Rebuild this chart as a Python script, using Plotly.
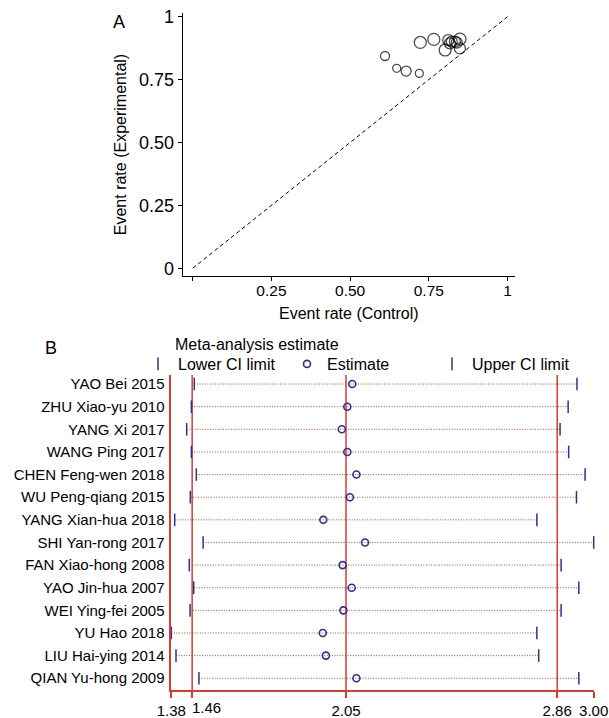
import plotly.graph_objects as go

# ---- Panel A: L'Abbe plot (event rates per study) ----
ctrl_rate = [0.611, 0.648, 0.678, 0.720, 0.723, 0.766, 0.802, 0.849,
             0.849, 0.812, 0.823, 0.833, 0.817, 0.839]
exp_rate = [0.844, 0.795, 0.784, 0.775, 0.898, 0.910, 0.868, 0.874,
            0.911, 0.907, 0.901, 0.901, 0.894, 0.897]
study_weight = [9, 8, 10, 8, 12, 12, 12, 11, 12, 11, 11, 11, 11, 11]

# ---- Panel B: influence analysis (study omitted) ----
studies = ["YAO Bei 2015", "ZHU Xiao-yu 2010", "YANG Xi 2017", "WANG Ping 2017",
           "CHEN Feng-wen 2018", "WU Peng-qiang 2015", "YANG Xian-hua 2018",
           "SHI Yan-rong 2017", "FAN Xiao-hong 2008", "YAO Jin-hua 2007",
           "WEI Ying-fei 2005", "YU Hao 2018", "LIU Hai-ying 2014", "QIAN Yu-hong 2009"]
estimate = [2.074, 2.055, 2.034, 2.055, 2.090, 2.065, 1.963,
            2.123, 2.037, 2.072, 2.040, 1.961, 1.973, 2.090]
lower_ci = [1.468, 1.457, 1.439, 1.457, 1.476, 1.453, 1.393,
            1.502, 1.449, 1.466, 1.452, 1.38, 1.398, 1.486]
upper_ci = [2.936, 2.902, 2.871, 2.904, 2.967, 2.934, 2.782,
            3.00, 2.875, 2.943, 2.875, 2.782, 2.789, 2.943]
pooled = [1.46, 2.05, 2.86]          # pooled lower CI, estimate, upper CI
axis_ticks = [1.38, 1.46, 2.05, 2.86, 3.00]

W, H = 609, 718
FONT = "Liberation Sans, Arial, Helvetica, sans-serif"
NAVY = "#2c3290"
RED = "#dc3a2e"

def px_x(p):
    return p / W

def px_y(p):
    return 1 - p / H

fig = go.Figure()

# Panel A: line of equality
fig.add_trace(go.Scatter(
    x=[0, 1], y=[0, 1], mode="lines",
    line=dict(color="black", width=1, dash="4px,3px"),
    showlegend=False, hoverinfo="skip", xaxis="x", yaxis="y"))

# Panel A: studies as open circles sized by weight
fig.add_trace(go.Scatter(
    x=ctrl_rate, y=exp_rate, mode="markers",
    marker=dict(symbol="circle-open", size=study_weight, color="black",
                line=dict(width=1.3, color="black")),
    showlegend=False, xaxis="x", yaxis="y"))

# Panel B: dotted CI ranges
row_idx = list(range(len(studies)))
ci_x, ci_y = [], []
for i in row_idx:
    ci_x += [lower_ci[i], upper_ci[i], None]
    ci_y += [i, i, None]
fig.add_trace(go.Scatter(
    x=ci_x, y=ci_y, mode="lines",
    line=dict(color=RED, width=1, dash="1px,1.6px"),
    showlegend=False, hoverinfo="skip", xaxis="x2", yaxis="y2", cliponaxis=False))

fig.add_trace(go.Scatter(
    x=lower_ci, y=row_idx, mode="markers", name="Lower CI limit", legend="legend",
    marker=dict(symbol="line-ns-open", size=9, color=NAVY,
                line=dict(width=1.5, color=NAVY)),
    xaxis="x2", yaxis="y2", cliponaxis=False))
fig.add_trace(go.Scatter(
    x=estimate, y=row_idx, mode="markers", name="Estimate", legend="legend2",
    marker=dict(symbol="circle-open", size=7, color=NAVY,
                line=dict(width=1.6, color=NAVY)),
    xaxis="x2", yaxis="y2", cliponaxis=False))
fig.add_trace(go.Scatter(
    x=upper_ci, y=row_idx, mode="markers", name="Upper CI limit", legend="legend3",
    marker=dict(symbol="line-ns-open", size=9, color=NAVY,
                line=dict(width=1.5, color=NAVY)),
    xaxis="x2", yaxis="y2", cliponaxis=False))

# Panel B: pooled estimate and CI reference lines
for v in pooled:
    fig.add_shape(type="line", xref="x2", yref="y2 domain",
                  x0=v, x1=v, y0=0, y1=1,
                  line=dict(color=RED, width=1.5), layer="below")

# the 1.46 label sits to the right of its tick so it clears 1.38
fig.add_annotation(text="1.46", xref="x2", yref="paper", x=1.46, y=px_y(697),
                   xanchor="left", yanchor="top", xshift=-2, showarrow=False,
                   font=dict(size=15, color="black", family=FONT))

# legend heading
fig.add_annotation(text="Meta-analysis estimate", xref="paper", yref="paper",
                   x=px_x(173), y=px_y(344), xanchor="left", yanchor="middle",
                   showarrow=False, font=dict(size=16, color="black", family=FONT))

fig.add_annotation(text="A", xref="paper", yref="paper",
                   x=px_x(118.5), y=px_y(22), xanchor="center", yanchor="middle",
                   showarrow=False, font=dict(size=18, color="black", family=FONT))
fig.add_annotation(text="B", xref="paper", yref="paper",
                   x=px_x(51), y=px_y(348), xanchor="center", yanchor="middle",
                   showarrow=False, font=dict(size=18, color="black", family=FONT))

leg_common = dict(orientation="h", xanchor="left", yanchor="top",
                  font=dict(size=16), bgcolor="rgba(0,0,0,0)", itemwidth=30,
                  tracegroupgap=0, borderwidth=0)

fig.update_layout(
    width=W, height=H,
    margin=dict(l=0, r=0, t=0, b=0),
    paper_bgcolor="white", plot_bgcolor="white",
    font=dict(family=FONT, color="black"),
    xaxis=dict(
        domain=[px_x(182.7), px_x(515)], range=[-0.032, 1.024],
        anchor="y", showline=True, linecolor="black", linewidth=1,
        ticks="outside", ticklen=4, tickcolor="black",
        tickvals=[0, 0.25, 0.5, 0.75, 1],
        ticktext=["", "0.25", "0.50", "0.75", "1"], tickangle=0,
        ticklabelstandoff=-4,
        tickfont=dict(size=15.5), showgrid=False, zeroline=False, automargin=False,
        title=dict(text="Event rate (Control)", font=dict(size=16), standoff=10)),
    yaxis=dict(
        domain=[px_y(276), px_y(13)], range=[-0.031, 1.015],
        anchor="x", showline=True, linecolor="black", linewidth=1,
        ticks="outside", ticklen=4, tickcolor="black",
        tickvals=[0, 0.25, 0.5, 0.75, 1],
        ticktext=["0", "0.25", "0.50", "0.75", "1"],
        tickfont=dict(size=18), showgrid=False, zeroline=False, automargin=False,
        title=dict(text="Event rate (Experimental)", font=dict(size=16), standoff=8)),
    xaxis2=dict(
        domain=[px_x(171.3), px_x(593.7)], range=[1.38, 3.00],
        anchor="y2", showline=True, linecolor=RED, linewidth=1.5,
        ticks="outside", ticklen=6, tickcolor=RED, tickwidth=1.5,
        tickvals=axis_ticks,
        ticktext=["" if t == 1.46 else f"{t:.2f}" for t in axis_ticks], tickangle=0,
        tickfont=dict(size=15), showgrid=False, zeroline=False, automargin=False),
    yaxis2=dict(
        domain=[px_y(690), px_y(375)], range=[13.52, -0.40],
        anchor="x2", showline=True, linecolor=RED, linewidth=1.5,
        ticks="outside", ticklen=2, tickcolor="rgba(0,0,0,0)",
        tickvals=row_idx, ticktext=studies,
        tickfont=dict(size=15), showgrid=False, zeroline=False, automargin=False),
    legend=dict(x=px_x(138), y=px_y(347), **leg_common),
    legend2=dict(x=px_x(287), y=px_y(347), **leg_common),
    legend3=dict(x=px_x(432), y=px_y(347), **leg_common),
)

fig.write_html("out.html")
